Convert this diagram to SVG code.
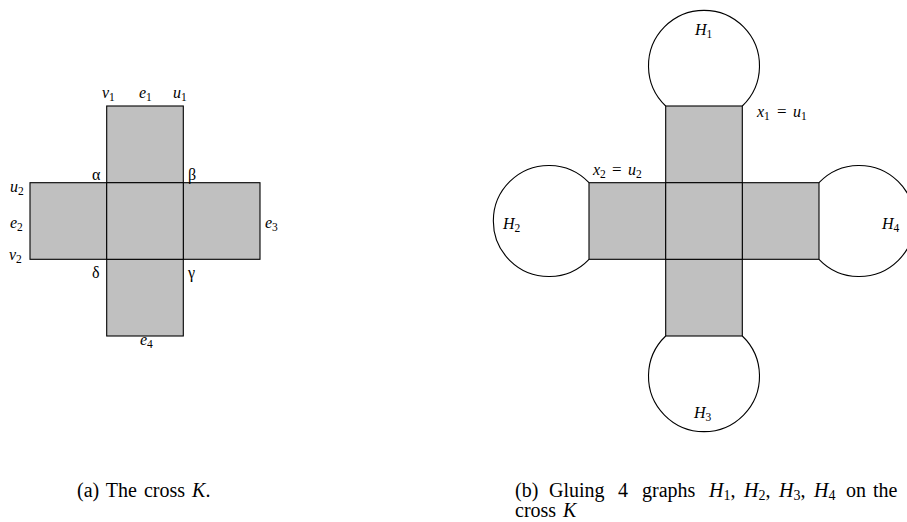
<svg xmlns="http://www.w3.org/2000/svg" width="907" height="522" viewBox="0 0 907 522">
<style>
.sq{fill:#c0c0c0;stroke:#000;stroke-width:1.1}
.arc{fill:none;stroke:#000;stroke-width:1.1}
text{font-family:"Liberation Serif","Times New Roman",serif;fill:#000}
.lb{font-size:16px}
.m{font-style:italic}
.sb{font-size:11.5px;font-style:normal}
.cap{font-size:20px}
.cs{font-size:14px;font-style:normal}
</style>
<rect width="907" height="522" fill="#fff"/>

<!-- (a) the cross K -->
<g id="crossA">
  <g id="a-top"><rect class="sq" x="106.7" y="106" width="76.6" height="76.7"/></g>
  <g id="a-left"><rect class="sq" x="30" y="182.7" width="76.7" height="76.6"/></g>
  <g id="a-right"><rect class="sq" x="183.3" y="182.7" width="76.7" height="76.6"/></g>
  <g id="a-bottom"><rect class="sq" x="106.7" y="259.3" width="76.6" height="76.7"/></g>
  <g id="a-center"><rect class="sq" x="106.7" y="182.7" width="76.6" height="76.6" stroke-width="1.5"/></g>
</g>
<g id="labelsA" class="lb">
  <text x="102" y="98"><tspan class="m">v</tspan><tspan class="sb" dy="3">1</tspan></text>
  <text x="139" y="98"><tspan class="m">e</tspan><tspan class="sb" dy="3">1</tspan></text>
  <text x="173" y="98"><tspan class="m">u</tspan><tspan class="sb" dy="3">1</tspan></text>
  <text x="92" y="180">α</text>
  <text x="188" y="180">β</text>
  <text x="10" y="192"><tspan class="m">u</tspan><tspan class="sb" dy="3">2</tspan></text>
  <text x="10" y="228"><tspan class="m">e</tspan><tspan class="sb" dy="3">2</tspan></text>
  <text x="9" y="260"><tspan class="m">v</tspan><tspan class="sb" dy="3">2</tspan></text>
  <text x="265" y="228"><tspan class="m">e</tspan><tspan class="sb" dy="3">3</tspan></text>
  <text x="92" y="278">δ</text>
  <text x="188" y="278">γ</text>
  <text x="140" y="345"><tspan class="m">e</tspan><tspan class="sb" dy="3">4</tspan></text>
</g>

<!-- (b) gluing -->
<g id="crossB">
  <g id="b-top"><rect class="sq" x="665.7" y="106" width="76.6" height="76.7"/></g>
  <g id="b-left"><rect class="sq" x="589" y="182.7" width="76.7" height="76.6"/></g>
  <g id="b-right"><rect class="sq" x="742.3" y="182.7" width="76.7" height="76.6"/></g>
  <g id="b-bottom"><rect class="sq" x="665.7" y="259.3" width="76.6" height="76.7"/></g>
  <g id="b-center"><rect class="sq" x="665.7" y="182.7" width="76.6" height="76.6" stroke-width="1.5"/></g>
</g>
<g id="H1"><path class="arc" d="M665.7,106 A55.5,55.5 0 1 1 742.3,106"/>
  <text class="lb" x="695" y="35"><tspan class="m">H</tspan><tspan class="sb" dy="3">1</tspan></text></g>
<g id="H2"><path class="arc" d="M589,182.7 A55.5,55.5 0 1 0 589,259.3"/>
  <text class="lb" x="503" y="229"><tspan class="m">H</tspan><tspan class="sb" dy="3">2</tspan></text></g>
<g id="H3"><path class="arc" d="M665.7,336 A55.5,55.5 0 1 0 742.3,336"/>
  <text class="lb" x="694" y="418"><tspan class="m">H</tspan><tspan class="sb" dy="3">3</tspan></text></g>
<g id="H4"><path class="arc" d="M819,182.7 A55.5,55.5 0 1 1 819,259.3"/>
  <text class="lb" x="882" y="229"><tspan class="m">H</tspan><tspan class="sb" dy="3">4</tspan></text></g>
<g id="connectors"></g>
<g id="labelsB" class="lb">
  <text y="117"><tspan class="m" x="757">x</tspan><tspan class="sb" dy="3">1</tspan><tspan x="777" dy="-3" font-size="17">=</tspan><tspan class="m" x="793">u</tspan><tspan class="sb" dy="3">1</tspan></text>
  <text y="175"><tspan class="m" x="593">x</tspan><tspan class="sb" dy="3">2</tspan><tspan x="612" dy="-3" font-size="17">=</tspan><tspan class="m" x="628">u</tspan><tspan class="sb" dy="3">2</tspan></text>
</g>

<!-- captions -->
<g id="captions" class="cap">
  <text x="77" y="497" word-spacing="2">(a) The cross <tspan class="m">K</tspan>.</text>
  <text y="497"><tspan x="515">(b)</tspan><tspan x="549">Gluing</tspan><tspan x="618">4</tspan><tspan x="642">graphs</tspan><tspan x="709" class="m">H</tspan><tspan class="cs" dy="3">1</tspan><tspan dy="-3">,</tspan><tspan x="744" class="m">H</tspan><tspan class="cs" dy="3">2</tspan><tspan dy="-3">,</tspan><tspan x="779" class="m">H</tspan><tspan class="cs" dy="3">3</tspan><tspan dy="-3">,</tspan><tspan x="814" class="m">H</tspan><tspan class="cs" dy="3">4</tspan><tspan x="846" dy="-3">on</tspan><tspan x="873">the</tspan></text>
  <text y="517"><tspan x="515">cross</tspan><tspan x="563" class="m">K</tspan></text>
</g>
</svg>
